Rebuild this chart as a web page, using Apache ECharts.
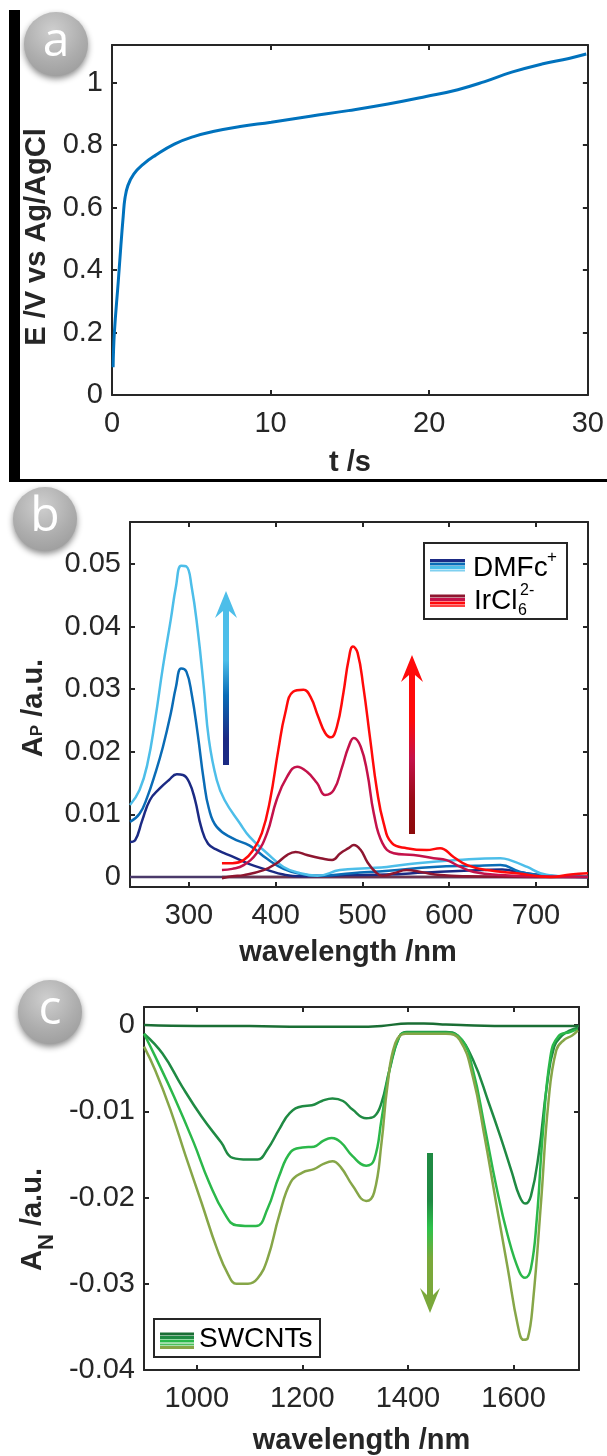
<!DOCTYPE html>
<html><head><meta charset="utf-8">
<script src="https://cdn.jsdelivr.net/npm/echarts@6/dist/echarts.min.js"></script>
<style>html,body{margin:0;padding:0;background:#fff}#c{width:607px;height:1456px}</style>
</head><body><div id="c"></div>
<script>
// ---------- Panel a : potential vs time ----------
const tA = [0.07,0.15,0.39,0.56,0.71,0.81,1.0,1.37,1.98,2.71,3.93,5.15,6.37,8.08,10.04,12.5,14.9,17.4,19.8,21.8,23.5,25.2,27.1,28.8,29.9];
const eA = [0.089,0.2,0.36,0.478,0.574,0.627,0.67,0.707,0.739,0.766,0.803,0.827,0.843,0.859,0.873,0.892,0.91,0.931,0.955,0.977,1.003,1.033,1.059,1.077,1.091];
const ticksAx = [0,10,20,30];
const ticksAy = [0,0.2,0.4,0.6,0.8,1];

// ---------- Panel b : positive-phase spectra ----------
const wlZeroB = [232,760]; const aZeroB = [0,0];
const wlZeroR = [338,760]; const aZeroR = [0,0];
const wlB1 = [232,238,246,255,266,277,286,293,300,307,314,322,333,351,369,391,409,427,455,482,527,572,617,661,683,705,730,760];
const aB1  = [0.0056,0.0059,0.009,0.0123,0.0141,0.0155,0.0164,0.0163,0.0152,0.0123,0.008,0.0053,0.0043,0.0032,0.0021,0.0011,0.0004,0.0001,0.0002,0.0003,0.0004,0.0007,0.001,0.0012,0.0007,0.0003,0.0001,0];
const wlB2 = [232,243,252,261,270,279,285,291,297,303,310,317,323,332,350,370,390,409,428,450,488,530,582,630,659,682,702,730,760];
const aB2  = [0.0088,0.0101,0.0128,0.0165,0.0208,0.0261,0.0304,0.0333,0.0328,0.0293,0.0229,0.0155,0.0109,0.008,0.0062,0.005,0.0029,0.0013,0.0005,0.0002,0.0006,0.001,0.0016,0.0018,0.0019,0.0008,0.0003,0.0001,0];
const wlB3 = [232,243,252,261,270,279,285,291,297,303,310,317,323,332,341,359,370,390,409,428,448,474,505,528,563,609,659,670,690,705,720,760];
const aB3  = [0.0115,0.0139,0.018,0.0251,0.0336,0.0411,0.0464,0.0497,0.0496,0.0464,0.0395,0.0304,0.0219,0.0155,0.0123,0.0085,0.0064,0.0038,0.0016,0.0006,0.0002,0.0011,0.0014,0.0016,0.0022,0.0027,0.003,0.0027,0.0016,0.0006,0.0002,0];
const wlR1 = [338,350,363,386,401,413,422.8,436,451.7,465,474.6,484,490,498,505.6,515,523,536,551,567,590,620,700,760];
const aR1  = [-0.0002,0.0001,0.0003,0.0011,0.0022,0.0035,0.004,0.0035,0.003,0.0027,0.0038,0.0046,0.0051,0.0043,0.0024,0.0008,0.0002,0.0006,0.0011,0.0008,0.0003,0.0001,0,0];
const wlR2 = [338,350,363,378,390,401,413,424.6,436,447.6,457,467,476.6,484,490,498,505.6,513,523,536,559,582,597,613,628.6,659.4,700,760];
const aR2  = [0.0011,0.0013,0.0019,0.0038,0.007,0.0123,0.016,0.0176,0.0168,0.015,0.0131,0.0139,0.0176,0.0208,0.0222,0.0208,0.0166,0.0102,0.0054,0.0038,0.0035,0.003,0.0027,0.0016,0.0008,0.0003,0.0001,0];
const wlR3 = [338,350,363,374,384,393.5,403,411,420,432,440,449,457,463.6,470.5,478,484,489,494.4,501,509,516.7,524.4,534,551,574,589.5,605,620.7,643.8,678,717,740,760];
const aR3  = [0.0022,0.0022,0.0027,0.0043,0.007,0.0123,0.0203,0.0262,0.0296,0.0299,0.0288,0.0256,0.023,0.0223,0.024,0.0294,0.0347,0.0368,0.0358,0.0304,0.0219,0.0139,0.0086,0.0054,0.0046,0.0043,0.0046,0.0032,0.0019,0.0011,0.0006,0,0.0004,0.0006];
const ticksBx = [300,400,500,600,700];
const ticksBy = [0,0.01,0.02,0.03,0.04,0.05];

// ---------- Panel c : negative-phase (SWCNT) spectra ----------
const wlG0 = [900,1000,1100,1200,1300,1350,1400,1430,1460,1500,1600,1700,1724];
const aG0  = [0,-0.0001,-0.0001,-0.0002,-0.0002,-0.0001,0.0002,0.0002,0.0001,0,-0.0001,-0.0001,-0.0001];
const wlG1 = [900,935,972,1009,1046,1068,1097,1115,1134,1156,1176,1200,1218,1237,1257,1277,1295,1321,1336,1350,1365,1384,1398,1435,1472,1494,1523,1553,1575,1597,1611,1622,1633,1648,1663,1677,1692,1707,1722];
const aG1  = [-0.001,-0.0033,-0.0071,-0.0106,-0.0136,-0.0154,-0.0156,-0.0156,-0.0144,-0.0121,-0.0102,-0.0094,-0.0093,-0.0088,-0.0085,-0.0088,-0.0098,-0.0108,-0.0106,-0.009,-0.0052,-0.0013,-0.0008,-0.0008,-0.0008,-0.0012,-0.004,-0.009,-0.0129,-0.0171,-0.0198,-0.0207,-0.0198,-0.0148,-0.0071,-0.0025,-0.0012,-0.0006,-0.0003];
const wlG2 = [900,921,957,994,1023,1053,1075,1112,1134,1156,1178,1200,1222,1240,1255,1273,1295,1321,1336,1350,1365,1384,1398,1472,1502,1523,1545,1567,1589,1611,1622,1633,1644,1655,1670,1685,1707,1722];
const aG2  = [-0.001,-0.0036,-0.0083,-0.0136,-0.0182,-0.0219,-0.0232,-0.0233,-0.0213,-0.0175,-0.0147,-0.0142,-0.0141,-0.0134,-0.0131,-0.0136,-0.0152,-0.0163,-0.0156,-0.0109,-0.0052,-0.0013,-0.0009,-0.0009,-0.0017,-0.0052,-0.0117,-0.0186,-0.0244,-0.0286,-0.0293,-0.0282,-0.0225,-0.0129,-0.0036,-0.0013,-0.0008,-0.0005];
const wlG3 = [900,921,950,979,1009,1038,1060,1075,1097,1115,1134,1156,1178,1200,1222,1240,1257,1273,1295,1321,1336,1350,1361,1376,1395,1472,1498,1523,1545,1567,1589,1608,1619,1627,1637,1652,1666,1681,1696,1711,1722];
const aG3  = [-0.0025,-0.0052,-0.0098,-0.0152,-0.0206,-0.0259,-0.029,-0.03,-0.03,-0.0294,-0.0271,-0.0221,-0.0182,-0.0171,-0.0167,-0.0161,-0.0158,-0.0165,-0.0186,-0.0204,-0.0194,-0.0136,-0.0071,-0.0021,-0.001,-0.001,-0.0017,-0.006,-0.0129,-0.0206,-0.0282,-0.0348,-0.0365,-0.0363,-0.032,-0.0206,-0.009,-0.0029,-0.0017,-0.0012,-0.0006];
const ticksCx = [1000,1200,1400,1600];
const ticksCy = [-0.04,-0.03,-0.02,-0.01,0];

// ---------- styling ----------
const FONT = "'Liberation Sans', Arial, Helvetica, sans-serif";
const TXT = '#262626';
const zip = (xs, ys) => xs.map((x, i) => [x, ys[i]]);
const plain = v => String(Math.round(v * 10000) / 10000);

function xAxes(g, min, max, ticks, name, nameGap, namePad) {
  const common = {
    type: 'value', gridIndex: g, min: min, max: max,
    axisLine: {show: true, onZero: false, lineStyle: {color: TXT, width: 2}},
    axisTick: {show: true, inside: true, length: 5, lineStyle: {color: TXT, width: 2}, customValues: ticks},
    splitLine: {show: false}
  };
  return [
    Object.assign({}, common, {
      position: 'bottom',
      axisLabel: {show: true, customValues: ticks, formatter: plain, margin: 14, fontSize: 29, color: TXT, fontFamily: FONT},
      name: name, nameLocation: 'middle', nameGap: nameGap,
      nameTextStyle: {fontSize: 29, fontWeight: 'bold', color: TXT, fontFamily: FONT, padding: namePad}
    }),
    Object.assign({}, common, {position: 'top', axisLabel: {show: false}})
  ];
}
function yAxes(g, min, max, ticks, name, nameGap, nameStyle) {
  const common = {
    type: 'value', gridIndex: g, min: min, max: max,
    axisLine: {show: true, onZero: false, lineStyle: {color: TXT, width: 2}},
    axisTick: {show: true, inside: true, length: 5, lineStyle: {color: TXT, width: 2}, customValues: ticks},
    splitLine: {show: false}
  };
  return [
    Object.assign({}, common, {
      position: 'left',
      axisLabel: {show: true, customValues: ticks, formatter: plain, margin: 9, fontSize: 29, color: TXT, fontFamily: FONT},
      name: name, nameLocation: 'middle', nameRotate: 90, nameGap: nameGap,
      nameTextStyle: nameStyle
    }),
    Object.assign({}, common, {position: 'right', axisLabel: {show: false}})
  ];
}

function line(xi, yi, data, color, w, z) {
  return {type: 'line', xAxisIndex: xi, yAxisIndex: yi, data: data, showSymbol: false, symbol: 'none',
    smooth: 0.45, lineStyle: {color: color, width: w}, itemStyle: {color: color}, z: z || 2};
}

function badge(cx, cy, letter) {
  return [
    {type: 'circle', shape: {cx: cx, cy: cy, r: 32},
      style: {fill: {type: 'radial', x: 0.45, y: 0.3, r: 0.8, colorStops: [{offset: 0, color: '#cfcfcf'}, {offset: 0.6, color: '#adadad'}, {offset: 1, color: '#9a9a9a'}]},
        shadowBlur: 6, shadowColor: 'rgba(0,0,0,0.45)', shadowOffsetY: 3}, z: 10},
    {type: 'text', x: cx, y: cy - 2, z: 11,
      style: {text: letter, fill: '#fff', fontSize: 48, fontFamily: "'Open Sans', sans-serif", align: 'center', verticalAlign: 'middle'}}
  ];
}

function arrow(cx, yTail, yTip, yWing, hh, hs, stops, up) {
  const yN = up ? yWing - 7 : yWing + 7;
  const pts = [[cx - hs, yTail], [cx - hs, yN], [cx - hh, yWing], [cx, yTip], [cx + hh, yWing], [cx + hs, yN], [cx + hs, yTail]];
  return {type: 'polygon', shape: {points: pts}, z: 10,
    style: {fill: {type: 'linear', x: 0, y: up ? 1 : 0, x2: 0, y2: up ? 0 : 1, colorStops: stops}}};
}

function hline(x1, x2, y, color, w) {
  return {type: 'line', shape: {x1: x1, y1: y, x2: x2, y2: y}, style: {stroke: color, lineWidth: w}, z: 12};
}
function txt(x, y, s, size, align) {
  return {type: 'text', x: x, y: y, z: 12,
    style: {text: s, fill: '#000', fontSize: size, fontFamily: FONT, align: align || 'left', verticalAlign: 'middle'}};
}

const cNavy = '#1b2a84', cMid = '#0a6cb6', cLight = '#4dbee9';
const cDRed = '#8e1630', cCrim = '#c4124a', cRed = '#ff0a0a';
const cG0 = '#1a6e34', cG1 = '#1f8a43', cG2 = '#2bb84a', cG3 = '#86a648';

const option = {
  animation: false,
  backgroundColor: '#fff',
  grid: [
    {left: 112, top: 45, width: 476, height: 350},
    {left: 130, top: 522, width: 458, height: 365},
    {left: 144, top: 1007, width: 435, height: 365}
  ],
  xAxis: [].concat(
    xAxes(0, 0, 30, ticksAx, 't /s', 53, [0, 0, 0, 0]),
    xAxes(1, 232, 760, ticksBx, 'wavelength /nm', 51, [0, 22, 0, 0]),
    xAxes(2, 900, 1724, ticksCx, 'wavelength /nm', 56, [0, 0, 0, 0])
  ),
  yAxis: [].concat(
    yAxes(0, 0, 1.12, ticksAy, 'E /V vs Ag/AgCl', 60,
      {fontSize: 29, fontWeight: 'bold', color: TXT, fontFamily: FONT, padding: [0, 34, 0, 0]}),
    yAxes(1, -0.0016, 0.0567, ticksBy, '{m|A}{s|P}{m| /a.u.}', 81,
      {color: TXT, fontFamily: FONT, padding: [0, 7, 0, 0], rich: {
        m: {fontSize: 29, fontWeight: 'bold', color: TXT, fontFamily: FONT, lineHeight: 30},
        s: {fontSize: 17, fontWeight: 'bold', color: TXT, fontFamily: FONT, padding: [6, 0, 0, 0]}}}),
    yAxes(2, -0.04, 0.0021, ticksCy, '{m|A}{s|N}{m| /a.u.}', 84,
      {color: TXT, fontFamily: FONT, padding: [0, 62, 0, 0], rich: {
        m: {fontSize: 29, fontWeight: 'bold', color: TXT, fontFamily: FONT, lineHeight: 30},
        s: {fontSize: 22, fontWeight: 'bold', color: TXT, fontFamily: FONT, padding: [28, 0, 0, 0]}}})
  ),
  series: [
    line(0, 0, zip(tA, eA), '#0072BD', 3),
    line(2, 2, zip(wlZeroB, aZeroB), '#4a3a6a', 2.5),
    line(2, 2, zip(wlZeroR, aZeroR), '#6a3450', 2.5),
    line(2, 2, zip(wlB1, aB1), cNavy, 2.5),
    line(2, 2, zip(wlB2, aB2), cMid, 2.5),
    line(2, 2, zip(wlB3, aB3), cLight, 2.5),
    line(2, 2, zip(wlR1, aR1), cDRed, 2.5, 3),
    line(2, 2, zip(wlR2, aR2), cCrim, 2.5, 3),
    line(2, 2, zip(wlR3, aR3), cRed, 2.5, 3),
    line(4, 4, zip(wlG0, aG0), cG0, 2.5),
    line(4, 4, zip(wlG1, aG1), cG1, 2.5),
    line(4, 4, zip(wlG2, aG2), cG2, 2.5),
    line(4, 4, zip(wlG3, aG3), cG3, 2.5)
  ],
  graphic: [].concat(
    [{type: 'rect', shape: {x: 9, y: 10, width: 11, height: 472}, style: {fill: '#000'}, z: 10},
     {type: 'rect', shape: {x: 9, y: 479, width: 598, height: 3}, style: {fill: '#000'}, z: 10}],
    badge(56, 44, 'a'), badge(45, 519, 'b'), badge(50, 1012, 'c'),
    [
      arrow(226, 765, 591, 618, 11, 3, [{offset: 0, color: cNavy}, {offset: 0.15, color: cNavy}, {offset: 0.4, color: cMid}, {offset: 0.6, color: cLight}, {offset: 1, color: cLight}], true),
      arrow(412, 834, 655, 682, 11, 3, [{offset: 0, color: '#8c0a0a'}, {offset: 0.2, color: '#9a0c18'}, {offset: 0.42, color: cCrim}, {offset: 0.64, color: cRed}, {offset: 1, color: cRed}], true),
      arrow(430, 1153, 1313, 1288, 10, 3, [{offset: 0, color: cG1}, {offset: 0.3, color: cG1}, {offset: 0.47, color: '#2ec24a'}, {offset: 0.66, color: '#7aa83a'}, {offset: 1, color: '#7aa83a'}], false),
      // legend b
      {type: 'rect', shape: {x: 424, y: 543, width: 143, height: 76}, style: {fill: '#fff', stroke: TXT, lineWidth: 2}, z: 11},
      hline(430, 465, 560.5, cNavy, 3), hline(430, 465, 564, cMid, 3), hline(430, 465, 567.5, cLight, 3), hline(430, 465, 570.5, '#7fd0f0', 2),
      hline(430, 465, 596, cDRed, 3), hline(430, 465, 599.5, cCrim, 3), hline(430, 465, 603, cRed, 3), hline(430, 465, 606, '#ff4040', 2),
      txt(473, 568, 'DMFc', 28), txt(547, 557, '+', 17),
      txt(474, 601, 'IrCl', 28), txt(520, 591, '2-', 16), txt(518, 611, '6', 16),
      // legend c
      {type: 'rect', shape: {x: 154, y: 1319, width: 166, height: 38}, style: {fill: '#fff', stroke: TXT, lineWidth: 2}, z: 11},
      hline(160, 194, 1334, cG0, 3), hline(160, 194, 1337.5, cG1, 3), hline(160, 194, 1341, cG2, 3), hline(160, 194, 1344.5, '#4cc05a', 2), hline(160, 194, 1347.5, cG3, 3),
      txt(199, 1339, 'SWCNTs', 28)
    ]
  )
};

const chart = echarts.init(document.getElementById('c'), null, {renderer: 'canvas', width: 607, height: 1456});
chart.setOption(option);
</script>
</body></html>
